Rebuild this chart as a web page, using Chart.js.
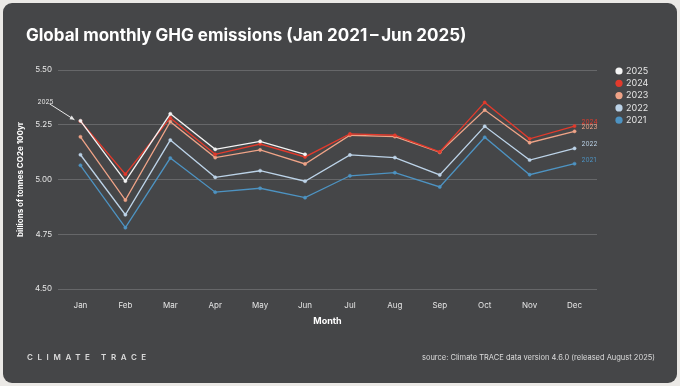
<!DOCTYPE html>
<html>
<head>
<meta charset="utf-8">
<script src="https://cdn.jsdelivr.net/npm/chart.js@4.4.1/dist/chart.umd.min.js"></script>
<style>
  html, body { margin: 0; padding: 0; background: #ebe9e6; }
  #wrap { position: relative; width: 680px; height: 386px; }
</style>
</head>
<body>
<div id="wrap"><canvas id="chart" width="680" height="386"></canvas></div>
<script>
// monthly global GHG emissions, billions of tonnes CO2e (100yr GWP)
const months = ['Jan', 'Feb', 'Mar', 'Apr', 'May', 'Jun', 'Jul', 'Aug', 'Sep', 'Oct', 'Nov', 'Dec'];
const yTicks = [4.5, 4.75, 5.0, 5.25, 5.5];

const data2025 = [5.268, 4.993, 5.300, 5.138, 5.174, 5.115];
const data2024 = [5.266, 5.024, 5.281, 5.115, 5.162, 5.103, 5.208, 5.202, 5.126, 5.352, 5.186, 5.244];
const data2023 = [5.195, 4.906, 5.264, 5.100, 5.135, 5.071, 5.202, 5.196, 5.124, 5.317, 5.168, 5.220];
const data2022 = [5.113, 4.839, 5.180, 5.010, 5.040, 4.992, 5.112, 5.100, 5.021, 5.243, 5.089, 5.142];
const data2021 = [5.065, 4.780, 5.098, 4.942, 4.960, 4.917, 5.017, 5.031, 4.966, 5.193, 5.022, 5.072];

const COLORS = {
  y2025: '#f4f4f4',
  y2024: '#e23a2c',
  y2023: '#efa387',
  y2022: '#bcd3e8',
  y2021: '#4d93c2',
  card: '#454648',
  grid: 'rgba(255,255,255,0.18)',
  text: '#e6e6e6',
};

const FONT = "Inter, 'Noto Sans', sans-serif";

function series(label, data, color) {
  return {
    label, data,
    borderColor: color,
    backgroundColor: color,
    pointBackgroundColor: color,
    pointBorderColor: color,
    borderWidth: 1.3,
    pointRadius: 1.6,
    pointBorderWidth: 0.5,
    pointHoverRadius: 3,
    tension: 0,
  };
}

// card background, title, footer
const frame = {
  id: 'frame',
  beforeDraw(chart) {
    const ctx = chart.ctx;
    ctx.save();
    ctx.fillStyle = COLORS.card;
    ctx.beginPath();
    ctx.roundRect(3, 3, 674, 380, 9);
    ctx.fill();
    ctx.restore();
  },
  afterDraw(chart) {
    const ctx = chart.ctx;
    ctx.save();
    ctx.fillStyle = '#ffffff';
    ctx.font = `bold 17px ${FONT}`;
    ctx.textBaseline = 'middle';
    ctx.fillText('Global monthly GHG emissions (Jan 2021\u2009\u2013\u2009Jun 2025)', 26, 36);

    ctx.fillStyle = '#dcdcdc';
    ctx.font = `600 8px ${FONT}`;
    ctx.letterSpacing = '4.6px';
    ctx.fillText('CLIMATE TRACE', 27, 358);
    ctx.letterSpacing = '0px';

    ctx.font = `7.5px ${FONT}`;
    ctx.textAlign = 'right';
    ctx.fillText('source: Climate TRACE data version 4.6.0 (released August 2025)', 655, 358);
    ctx.restore();
  }
};

// year labels at line ends, 2025 annotation and legend
const labels = {
  id: 'labels',
  afterDatasetsDraw(chart) {
    const ctx = chart.ctx;
    const x = chart.scales.x, y = chart.scales.y;
    ctx.save();
    ctx.font = `6.5px ${FONT}`;
    ctx.textBaseline = 'middle';
    chart.data.datasets.forEach((ds) => {
      if (ds.data.length < 12) return;
      const px = x.getPixelForValue(11) + 7;
      const py = y.getPixelForValue(ds.data[11]) - 4;
      ctx.fillStyle = ds.borderColor;
      ctx.fillText(ds.label, px, py);
    });

    // arrow pointing at Jan 2025
    const tx = x.getPixelForValue(0) - 6, ty = y.getPixelForValue(data2025[0]) - 1;
    const sx = tx - 23, sy = ty - 14;
    ctx.fillStyle = '#e8e8e8';
    ctx.fillText('2025', sx - 14, sy - 4);
    ctx.strokeStyle = '#e8e8e8';
    ctx.lineWidth = 1;
    ctx.beginPath();
    ctx.moveTo(sx - 2, sy - 2);
    ctx.lineTo(tx, ty);
    ctx.stroke();
    const ang = Math.atan2(ty - sy, tx - sx);
    ctx.beginPath();
    ctx.moveTo(tx, ty);
    ctx.lineTo(tx - 5 * Math.cos(ang - 0.45), ty - 5 * Math.sin(ang - 0.45));
    ctx.lineTo(tx - 5 * Math.cos(ang + 0.45), ty - 5 * Math.sin(ang + 0.45));
    ctx.closePath();
    ctx.fill();

    // legend
    ctx.font = `9px ${FONT}`;
    chart.data.datasets.forEach((ds, i) => {
      const ly = 71 + i * 12.3;
      ctx.fillStyle = ds.borderColor;
      ctx.beginPath();
      ctx.arc(619, ly, 3.6, 0, Math.PI * 2);
      ctx.fill();
      ctx.fillStyle = COLORS.text;
      ctx.fillText(ds.label, 626, ly);
    });
    ctx.restore();
  }
};

new Chart(document.getElementById('chart'), {
  type: 'line',
  data: {
    labels: months,
    datasets: [
      series('2025', data2025, COLORS.y2025),
      series('2024', data2024, COLORS.y2024),
      series('2023', data2023, COLORS.y2023),
      series('2022', data2022, COLORS.y2022),
      series('2021', data2021, COLORS.y2021),
    ],
  },
  options: {
    responsive: false,
    animation: false,
    layout: { padding: { left: 16, right: 83, top: 70, bottom: 55 } },
    plugins: {
      legend: { display: false },
      tooltip: { enabled: false },
    },
    scales: {
      x: {
        offset: true,
        grid: { display: false },
        border: { display: false },
        ticks: { color: COLORS.text, font: { family: FONT, size: 8 }, padding: 4, maxRotation: 0 },
        title: { display: true, text: 'Month', color: '#ffffff', font: { family: FONT, size: 9, weight: 'bold' }, padding: { top: 10 } },
        afterFit: (s) => { s.height = 42; },
      },
      y: {
        min: 4.5,
        max: 5.5,
        afterBuildTicks: (s) => { s.ticks = yTicks.map(v => ({ value: v })); },
        grid: { color: COLORS.grid, lineWidth: 1, drawTicks: false },
        border: { display: false },
        ticks: {
          color: COLORS.text,
          font: { family: FONT, size: 8 },
          padding: 6,
          callback: (v) => Number(v).toFixed(2),
        },
        title: { display: true, text: 'billions of tonnes CO2e 100yr', color: '#ffffff', font: { family: FONT, size: 8, weight: 'bold' }, padding: 0 },
        afterFit: (s) => { s.width = 42; },
      },
    },
  },
  plugins: [frame, labels],
});
</script>
</body>
</html>
